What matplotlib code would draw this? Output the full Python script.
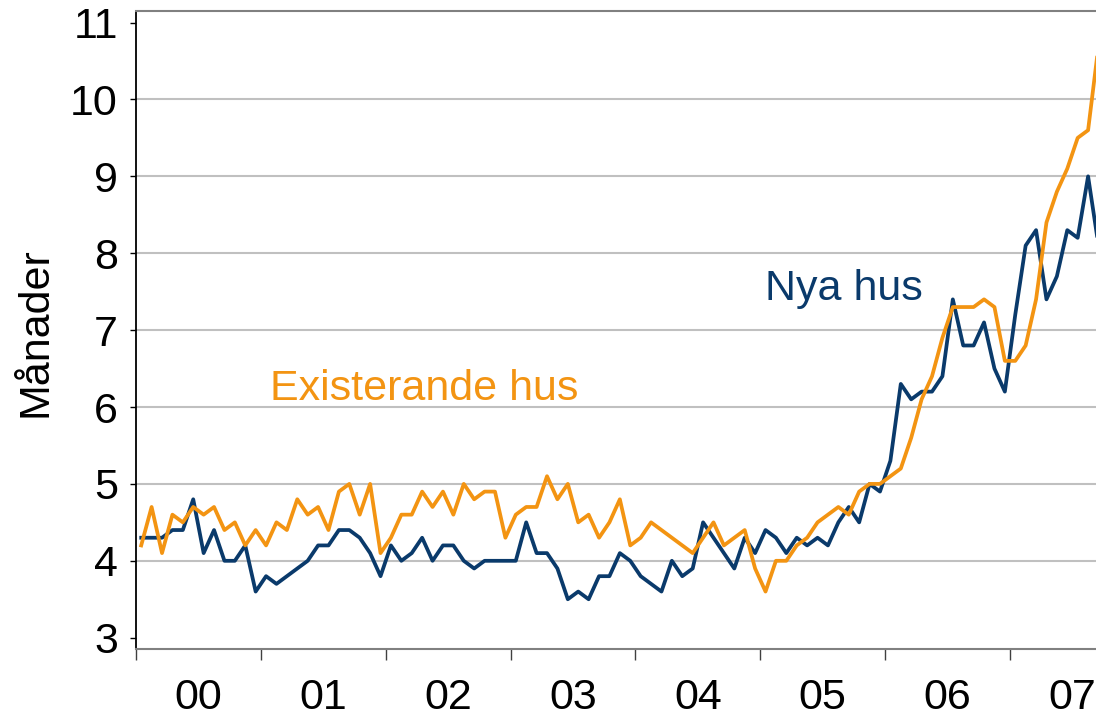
import matplotlib
matplotlib.use('Agg')
import matplotlib.pyplot as plt
import numpy as np

# ---- data (monthly, Jan 2000 onward) ----
year_labels = ['00', '01', '02', '03', '04', '05', '06', '07']
y_ticks = [3, 4, 5, 6, 7, 8, 9, 10, 11]
grid_levels = [4, 5, 6, 7, 8, 9, 10]

existing_homes = [
    4.2, 4.7, 4.1, 4.6, 4.5, 4.7, 4.6, 4.7, 4.4, 4.5, 4.2, 4.4,   # 2000
    4.2, 4.5, 4.4, 4.8, 4.6, 4.7, 4.4, 4.9, 5.0, 4.6, 5.0, 4.1,   # 2001
    4.3, 4.6, 4.6, 4.9, 4.7, 4.9, 4.6, 5.0, 4.8, 4.9, 4.9, 4.3,   # 2002
    4.6, 4.7, 4.7, 5.1, 4.8, 5.0, 4.5, 4.6, 4.3, 4.5, 4.8, 4.2,   # 2003
    4.3, 4.5, 4.4, 4.3, 4.2, 4.1, 4.3, 4.5, 4.2, 4.3, 4.4, 3.9,   # 2004
    3.6, 4.0, 4.0, 4.2, 4.3, 4.5, 4.6, 4.7, 4.6, 4.9, 5.0, 5.0,   # 2005
    5.1, 5.2, 5.6, 6.1, 6.4, 6.9, 7.3, 7.3, 7.3, 7.4, 7.3, 6.6,   # 2006
    6.6, 6.8, 7.4, 8.4, 8.8, 9.1, 9.5, 9.6, 10.7,                 # 2007
]

new_homes = [
    4.3, 4.3, 4.3, 4.4, 4.4, 4.8, 4.1, 4.4, 4.0, 4.0, 4.2, 3.6,   # 2000
    3.8, 3.7, 3.8, 3.9, 4.0, 4.2, 4.2, 4.4, 4.4, 4.3, 4.1, 3.8,   # 2001
    4.2, 4.0, 4.1, 4.3, 4.0, 4.2, 4.2, 4.0, 3.9, 4.0, 4.0, 4.0,   # 2002
    4.0, 4.5, 4.1, 4.1, 3.9, 3.5, 3.6, 3.5, 3.8, 3.8, 4.1, 4.0,   # 2003
    3.8, 3.7, 3.6, 4.0, 3.8, 3.9, 4.5, 4.3, 4.1, 3.9, 4.3, 4.1,   # 2004
    4.4, 4.3, 4.1, 4.3, 4.2, 4.3, 4.2, 4.5, 4.7, 4.5, 5.0, 4.9,   # 2005
    5.3, 6.3, 6.1, 6.2, 6.2, 6.4, 7.4, 6.8, 6.8, 7.1, 6.5, 6.2,   # 2006
    7.2, 8.1, 8.3, 7.4, 7.7, 8.3, 8.2, 9.0, 8.1,                  # 2007
]

label_existing = 'Existerande hus'
label_new = 'Nya hus'
y_axis_label = 'Månader'

# ---- style ----
NAVY = '#0a3a6b'
ORANGE = '#f39412'
FS = 31

plt.rcParams['font.family'] = ['Liberation Sans', 'DejaVu Sans']

fig = plt.figure(figsize=(10.96, 7.2), dpi=100)
ax = fig.add_axes([136 / 1096, 71 / 720, 960 / 1096, 638 / 720])

months = np.arange(len(existing_homes)) + 0.5
ax.plot(months[:len(new_homes)], new_homes, color=NAVY, lw=2.7, zorder=3)
ax.plot(months, existing_homes, color=ORANGE, lw=2.7, zorder=4)

for g in grid_levels:
    ax.axhline(g, color='#c0c0c0', lw=1.5, zorder=1)

ax.set_xlim(0, 92.26)
ax.set_ylim(2.853, 11.15)

# y axis
ax.set_yticks(y_ticks)
ax.set_yticklabels([str(v) for v in y_ticks])
ax.tick_params(axis='y', which='major', direction='out', length=4, width=1,
               color='black', labelsize=FS, pad=9)

# x axis: year boundaries as ticks, labels at mid-year
n_years = len(year_labels)
ax.set_xticks([12 * i for i in range(n_years)])
ax.set_xticklabels([''] * n_years)
ax.set_xticks([12 * i + 6 for i in range(n_years)], minor=True)
ax.set_xticklabels(year_labels, minor=True)
ax.tick_params(axis='x', which='major', direction='out', length=8, width=1,
               color='#404040')
ax.tick_params(axis='x', which='minor', length=0, labelsize=FS, pad=21)

for side in ['top', 'bottom']:
    ax.spines[side].set_color('#808080')
    ax.spines[side].set_linewidth(1.5)
ax.spines['left'].set_color('black')
ax.spines['left'].set_linewidth(1.3)
ax.spines['right'].set_visible(False)

# labels
fig.text(35 / 1096, 1 - 332 / 720, y_axis_label, rotation=90,
         ha='center', va='center', fontsize=FS)
ax.text(12.88, 6.09, label_existing, color=ORANGE, fontsize=FS,
        ha='left', va='baseline')
ax.text(60.45, 7.39, label_new, color=NAVY, fontsize=FS,
        ha='left', va='baseline')

fig.savefig('out.png', dpi=100)
